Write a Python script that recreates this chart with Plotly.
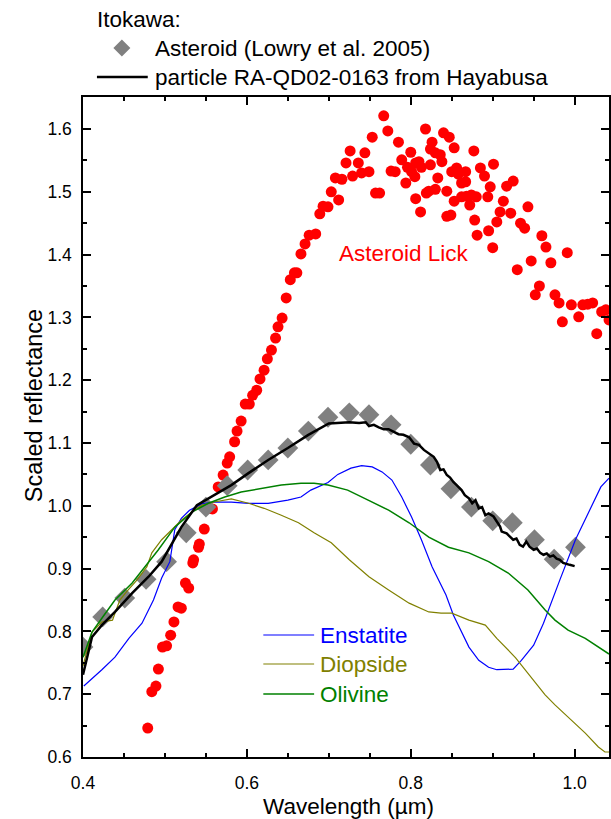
import plotly.graph_objects as go

# ---------------- data ----------------
lick_x = [0.479, 0.484, 0.489, 0.492, 0.497, 0.502, 0.507, 0.511, 0.516, 0.520,
          0.525, 0.529, 0.534, 0.535, 0.541, 0.542, 0.548, 0.554, 0.558, 0.565,
          0.571, 0.576, 0.579, 0.585, 0.588, 0.593, 0.598, 0.603, 0.607, 0.612,
          0.616, 0.621, 0.625, 0.630, 0.635, 0.638, 0.643, 0.648, 0.653, 0.658,
          0.661, 0.666, 0.671, 0.676, 0.684, 0.689, 0.693, 0.699, 0.703, 0.712,
          0.708, 0.716, 0.721, 0.726, 0.729, 0.736, 0.740, 0.749, 0.744, 0.753,
          0.757, 0.762, 0.767, 0.772, 0.776, 0.781, 0.785, 0.789, 0.794, 0.800,
          0.806, 0.812, 0.818, 0.819, 0.822, 0.796, 0.801, 0.806, 0.810, 0.813,
          0.805, 0.824, 0.826, 0.830, 0.836, 0.838, 0.824, 0.840, 0.847, 0.853,
          0.833, 0.830, 0.844, 0.850, 0.856, 0.858, 0.867, 0.862, 0.867, 0.853,
          0.844, 0.849, 0.877, 0.862, 0.868, 0.874, 0.880, 0.872, 0.885, 0.890,
          0.901, 0.897, 0.894, 0.878, 0.881, 0.895, 0.900, 0.905, 0.909, 0.913,
          0.917, 0.925, 0.922, 0.934, 0.939, 0.943, 0.930, 0.947, 0.960, 0.965,
          0.971, 0.991, 0.957, 0.952, 0.976, 0.981, 0.985, 0.996, 1.005, 1.010,
          1.016, 1.022, 1.027, 1.033, 1.038, 1.042]
lick_y = [0.646, 0.704, 0.713, 0.740, 0.775, 0.777, 0.794, 0.815, 0.839, 0.837,
          0.877, 0.869, 0.909, 0.914, 0.934, 0.939, 0.963, 0.996, 0.995, 1.030,
          1.049, 1.068, 1.078, 1.102, 1.119, 1.135, 1.162, 1.162, 1.176, 1.184,
          1.202, 1.216, 1.234, 1.248, 1.267, 1.285, 1.299, 1.331, 1.360, 1.371,
          1.371, 1.401, 1.417, 1.431, 1.433, 1.465, 1.477, 1.476, 1.500, 1.487,
          1.522, 1.520, 1.546, 1.565, 1.525, 1.546, 1.530, 1.532, 1.562, 1.587,
          1.498, 1.498, 1.621, 1.597, 1.533, 1.532, 1.579, 1.551, 1.514, 1.563,
          1.489, 1.468, 1.600, 1.498, 1.501, 1.539, 1.532, 1.546, 1.548, 1.539,
          1.524, 1.568, 1.579, 1.562, 1.559, 1.548, 1.543, 1.594, 1.587, 1.570,
          1.522, 1.504, 1.501, 1.532, 1.538, 1.528, 1.532, 1.514, 1.516, 1.485,
          1.461, 1.463, 1.565, 1.492, 1.493, 1.495, 1.492, 1.479, 1.538, 1.525,
          1.544, 1.508, 1.492, 1.455, 1.431, 1.438, 1.411, 1.452, 1.468, 1.485,
          1.509, 1.517, 1.466, 1.450, 1.442, 1.476, 1.376, 1.390, 1.430, 1.412,
          1.387, 1.403, 1.350, 1.336, 1.336, 1.323, 1.293, 1.320, 1.301, 1.320,
          1.321, 1.323, 1.274, 1.309, 1.312, 1.296]

lowry_x = [0.400, 0.424, 0.451, 0.477, 0.502, 0.526, 0.550, 0.576, 0.601, 0.626,
           0.650, 0.675, 0.699, 0.725, 0.749, 0.776, 0.800, 0.824, 0.849, 0.874,
           0.900, 0.924, 0.951, 0.975, 1.001]
lowry_y = [0.775, 0.823, 0.853, 0.883, 0.911, 0.957, 0.998, 1.032, 1.057, 1.073,
           1.092, 1.119, 1.141, 1.148, 1.145, 1.129, 1.098, 1.065, 1.027, 0.998,
           0.976, 0.973, 0.946, 0.915, 0.934]

particle_x = [0.400, 0.405, 0.411, 0.423, 0.439, 0.460, 0.480, 0.496, 0.520, 0.539,
              0.560, 0.581, 0.602, 0.626, 0.650, 0.675, 0.700, 0.712, 0.725, 0.737,
              0.745, 0.749, 0.755, 0.761, 0.767, 0.773, 0.779, 0.785, 0.791, 0.798,
              0.804, 0.810, 0.816, 0.822, 0.828, 0.832, 0.836, 0.840, 0.844, 0.848,
              0.852, 0.856, 0.862, 0.866, 0.871, 0.875, 0.879, 0.883, 0.887, 0.891,
              0.895, 0.901, 0.905, 0.909, 0.911, 0.917, 0.921, 0.925, 0.929, 0.933,
              0.937, 0.941, 0.945, 0.950, 0.954, 0.958, 0.962, 0.966, 0.970, 0.974,
              0.978, 0.982, 0.986, 0.990, 0.994, 1.000]
particle_y = [0.731, 0.759, 0.791, 0.810, 0.831, 0.861, 0.887, 0.911, 0.966, 1.001,
              1.017, 1.033, 1.052, 1.073, 1.092, 1.113, 1.131, 1.132, 1.133, 1.132,
              1.133, 1.127, 1.129, 1.125, 1.122, 1.122, 1.118, 1.114, 1.113, 1.109,
              1.099, 1.097, 1.089, 1.083, 1.078, 1.070, 1.057, 1.058, 1.049, 1.045,
              1.038, 1.033, 1.025, 1.017, 1.012, 1.004, 1.009, 0.996, 0.998, 0.985,
              0.988, 0.983, 0.975, 0.967, 0.959, 0.956, 0.951, 0.946, 0.948, 0.938,
              0.935, 0.943, 0.935, 0.930, 0.932, 0.925, 0.922, 0.924, 0.919, 0.921,
              0.916, 0.914, 0.909, 0.907, 0.906, 0.904]

enstatite_x = [0.401, 0.413, 0.423, 0.439, 0.456, 0.472, 0.486, 0.496, 0.506, 0.510,
               0.512, 0.520, 0.530, 0.545, 0.560, 0.581, 0.602, 0.626, 0.650, 0.666,
               0.678, 0.699, 0.711, 0.727, 0.740, 0.753, 0.765, 0.777, 0.789, 0.801,
               0.813, 0.826, 0.843, 0.852, 0.861, 0.871, 0.883, 0.895, 0.905, 0.925,
               0.935, 0.950, 0.962, 0.971, 0.982, 1.001, 1.020, 1.032, 1.042]
enstatite_y = [0.713, 0.727, 0.739, 0.759, 0.789, 0.813, 0.850, 0.885, 0.911, 0.945,
               0.962, 0.980, 0.993, 1.003, 1.006, 1.006, 1.004, 1.004, 1.009, 1.014,
               1.025, 1.037, 1.050, 1.060, 1.064, 1.062, 1.054, 1.041, 1.014, 0.982,
               0.946, 0.903, 0.858, 0.826, 0.802, 0.775, 0.754, 0.743, 0.739, 0.740,
               0.754, 0.778, 0.813, 0.845, 0.882, 0.946, 0.998, 1.030, 1.044]

diopside_x = [0.400, 0.411, 0.423, 0.436, 0.439, 0.445, 0.453, 0.466, 0.478, 0.484,
              0.496, 0.508, 0.520, 0.533, 0.545, 0.560, 0.581, 0.602, 0.621, 0.642,
              0.663, 0.682, 0.703, 0.725, 0.749, 0.773, 0.798, 0.822, 0.837, 0.850,
              0.871, 0.891, 0.905, 0.928, 0.947, 0.964, 0.976, 0.992, 1.013, 1.029,
              1.037, 1.042]
diopside_y = [0.745, 0.799, 0.815, 0.818, 0.829, 0.850, 0.863, 0.882, 0.903, 0.925,
              0.946, 0.961, 0.977, 0.990, 1.001, 1.006, 1.011, 1.004, 0.996, 0.985,
              0.973, 0.957, 0.941, 0.914, 0.887, 0.866, 0.845, 0.831, 0.829, 0.829,
              0.818, 0.810, 0.789, 0.758, 0.726, 0.699, 0.683, 0.664, 0.638, 0.616,
              0.608, 0.608]

olivine_x = [0.400, 0.411, 0.423, 0.439, 0.460, 0.480, 0.492, 0.512, 0.533, 0.553,
             0.573, 0.593, 0.618, 0.642, 0.666, 0.682, 0.699, 0.723, 0.748, 0.773,
             0.798, 0.822, 0.846, 0.871, 0.895, 0.919, 0.943, 0.964, 0.976, 0.992,
             1.013, 1.029, 1.042]
olivine_y = [0.759, 0.799, 0.821, 0.850, 0.877, 0.909, 0.930, 0.966, 0.990, 1.004,
             1.014, 1.022, 1.028, 1.033, 1.036, 1.036, 1.033, 1.025, 1.009, 0.993,
             0.973, 0.950, 0.934, 0.925, 0.911, 0.893, 0.866, 0.834, 0.818, 0.802,
             0.789, 0.775, 0.764]

x_ticks = [0.4, 0.6, 0.8, 1.0]
y_ticks = [0.6, 0.7, 0.8, 0.9, 1.0, 1.1, 1.2, 1.3, 1.4, 1.5, 1.6]

# ---------------- figure ----------------
FONT = "Liberation Sans, Arial, sans-serif"
W, H = 611, 819
L, T, B, R = 83, 97, 62, 0
PW, PH = W - L - R, H - T - B


def px(xp):
    return (xp - L) / PW


def py(yp):
    return (H - B - yp) / PH


fig = go.Figure()
fig.add_trace(go.Scatter(x=lick_x, y=lick_y, mode="markers", name="Asteroid Lick",
                         marker=dict(symbol="circle", size=11, color="#ff0000")))
fig.add_trace(go.Scatter(x=lowry_x, y=lowry_y, mode="markers",
                         name="Asteroid (Lowry et al. 2005)",
                         marker=dict(symbol="diamond", size=16, color="#808080")))
fig.add_trace(go.Scatter(x=enstatite_x, y=enstatite_y, mode="lines", name="Enstatite",
                         line=dict(color="#0000ff", width=1.2)))
fig.add_trace(go.Scatter(x=diopside_x, y=diopside_y, mode="lines", name="Diopside",
                         line=dict(color="#808000", width=1.2)))
fig.add_trace(go.Scatter(x=olivine_x, y=olivine_y, mode="lines", name="Olivine",
                         line=dict(color="#008000", width=1.5)))
fig.add_trace(go.Scatter(x=particle_x, y=particle_y, mode="lines",
                         name="particle RA-QD02-0163 from Hayabusa",
                         line=dict(color="#000000", width=2.5)))

axis_common = dict(showgrid=False, zeroline=False, showline=True, linecolor="black",
                   linewidth=1.5, mirror="ticks", ticks="inside", ticklen=8,
                   tickwidth=1.5, tickcolor="black", tickformat=".1f",
                   tickfont=dict(family=FONT, size=17.5, color="black"))
fig.update_xaxes(range=[0.4, 0.4 + PW / 822.5], tickvals=x_ticks,
                 ticklabelstandoff=9,
                 minor=dict(dtick=0.05, tick0=0.4, ticks="inside", ticklen=4,
                            tickwidth=1.5, tickcolor="black", showgrid=False),
                 **axis_common)
fig.update_yaxes(range=[0.6, 0.6 + PH / 628.0], tickvals=y_ticks,
                 ticklabelstandoff=6,
                 minor=dict(dtick=0.05, tick0=0.6, ticks="inside", ticklen=4,
                            tickwidth=1.5, tickcolor="black", showgrid=False),
                 **axis_common)

ann = []
def text(t, x, y, color="black", xanchor="left", angle=0, xref="paper", yref="paper",
         size=22.5):
    ann.append(dict(text=t, x=x, y=y, xref=xref, yref=yref, xanchor=xanchor,
                    yanchor="middle", showarrow=False, textangle=angle,
                    font=dict(family=FONT, size=size, color=color)))

# axis titles
text("Wavelength (µm)", px(350), py(806), xanchor="center")
text("Scaled reflectance", px(34), py(406), xanchor="center", angle=-90, size=23.5)
# top legend
text("Itokawa:", px(95), py(19))
text("Asteroid (Lowry et al. 2005)", px(153), py(48))
text("particle RA-QD02-0163 from Hayabusa", px(153), py(77))
# in-plot labels
text("Asteroid Lick", 0.710, 1.4025, color="#ff0000", xref="x", yref="y")
mins = [("Enstatite", "#0000ff", 635, 1.2), ("Diopside", "#808000", 664, 1.2),
        ("Olivine", "#008000", 694, 1.5)]
for name, col, yy, lw in mins:
    text(name, px(319), py(yy), color=col)

shapes = []
shapes.append(dict(type="line", xref="paper", yref="paper", x0=px(97), x1=px(148),
                   y0=py(77), y1=py(77), line=dict(color="black", width=2.5)))
shapes.append(dict(type="path", xref="paper", yref="paper", xsizemode="pixel",
                   ysizemode="pixel", xanchor=px(122), yanchor=py(48),
                   path="M -8.5 0 L 0 8.5 L 8.5 0 L 0 -8.5 Z",
                   fillcolor="#808080", line=dict(width=0)))
for name, col, yy, lw in mins:
    shapes.append(dict(type="line", xref="paper", yref="paper", x0=px(264), x1=px(315),
                       y0=py(yy), y1=py(yy), line=dict(color=col, width=lw)))

fig.update_layout(width=W, height=H, margin=dict(l=L, r=R, t=T, b=B),
                  plot_bgcolor="white", paper_bgcolor="white", showlegend=False,
                  annotations=ann, shapes=shapes)
fig.write_html("out.html", config={"displayModeBar": False},
               post_script="document.body.style.margin='0';"
                           "document.body.style.overflow='hidden';")
